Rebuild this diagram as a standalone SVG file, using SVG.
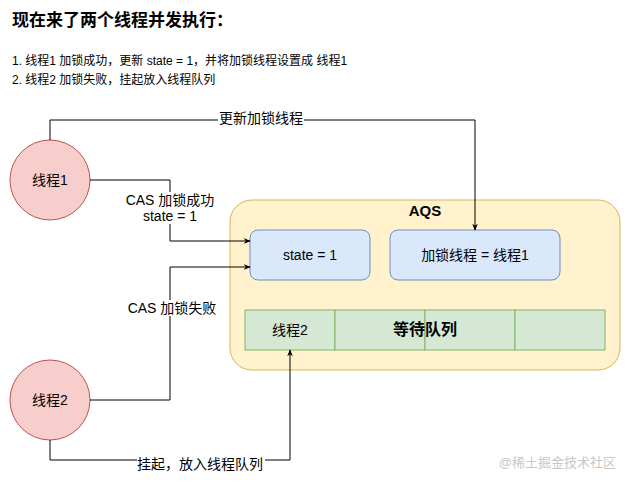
<svg xmlns="http://www.w3.org/2000/svg" width="631" height="484" viewBox="0 0 631 484">
<style>
text{font-family:"Liberation Sans","Noto Sans CJK SC",sans-serif;fill:#000}
.c{fill:#f8cecc;stroke:#b85450}
.b{fill:#dae8fc;stroke:#6c8ebf}
.q{fill:#d5e8d4;stroke:#82b366}
.l{fill:none;stroke:#000;stroke-width:1}
.lb{font-size:14px;text-anchor:middle}
</style>
<defs><marker id="a" viewBox="0 0 10 10" refX="9" refY="5" markerWidth="7" markerHeight="7" orient="auto"><path d="M0,1 L10,5 L0,9 L3,5Z" fill="#000"/></marker></defs>
<rect width="631" height="484" fill="#fff"/>
<text x="12" y="26" font-size="17" font-weight="bold">现在来了两个线程并发执行：</text>
<text x="12" y="65" font-size="12">1. 线程1 加锁成功，更新 state = 1，并将加锁线程设置成 线程1</text>
<text x="12" y="84" font-size="12">2. 线程2 加锁失败，挂起放入线程队列</text>
<g id="aqs"><rect x="230" y="200" width="390" height="170" rx="22" fill="#fff2cc" stroke="#d6b656"/>
<text x="425" y="216" font-size="15" font-weight="bold" text-anchor="middle">AQS</text></g>
<g id="state"><rect class="b" x="250" y="230" width="120" height="50" rx="8"/><text class="lb" x="310" y="260">state = 1</text></g>
<g id="owner"><rect class="b" x="390" y="230" width="170" height="50" rx="8"/><text class="lb" x="475" y="260">加锁线程 = 线程1</text></g>
<g id="queue">
<rect class="q" x="245" y="310" width="90" height="40"/><rect class="q" x="335" y="310" width="90" height="40"/><rect class="q" x="425" y="310" width="90" height="40"/><rect class="q" x="515" y="310" width="90" height="40"/>
<text class="lb" x="290" y="335">线程2</text>
<text x="425" y="335" font-size="16" font-weight="bold" text-anchor="middle">等待队列</text></g>
<g id="t1"><circle class="c" cx="50" cy="180" r="40"/><text class="lb" x="50" y="185">线程1</text></g>
<g id="t2"><circle class="c" cx="50" cy="400" r="40"/><text class="lb" x="50" y="405">线程2</text></g>
<g id="connectors">
<path class="l" d="M50,140 V120 H475 V230" marker-end="url(#a)"/>
<path class="l" d="M90,180 H170 V241 H250" marker-end="url(#a)"/>
<path class="l" d="M90,400 H170 V267 H250" marker-end="url(#a)"/>
<path class="l" d="M50,440 V460 H290 V350" marker-end="url(#a)"/>
<rect x="218" y="110" width="86" height="16" fill="#fff"/>
<text class="lb" x="261" y="123">更新加锁线程</text>
<rect x="124" y="192" width="92" height="32" fill="#fff"/>
<text class="lb" x="170" y="205">CAS 加锁成功</text>
<text class="lb" x="170" y="221">state = 1</text>
<rect x="126" y="300" width="92" height="16" fill="#fff"/>
<text class="lb" x="172" y="313">CAS 加锁失败</text>
<rect x="137" y="456" width="128" height="16" fill="#fff"/>
<text class="lb" x="200" y="469">挂起，放入线程队列</text>
</g>
<text x="616" y="467" font-size="13" text-anchor="end" style="fill:#c8c8c8">@稀土掘金技术社区</text>
</svg>
